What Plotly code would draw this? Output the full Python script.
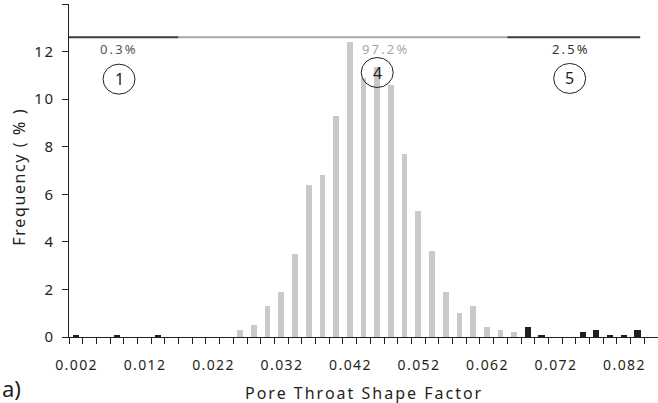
import plotly.graph_objects as go

# ---- data ----
bin_width = 0.002
first_bin = 0.002
# frequencies (%) per bin, bins at 0.002, 0.004, ..., 0.086
frequency = [0.1, 0, 0, 0.1, 0, 0, 0.1, 0, 0, 0, 0, 0,
             0.3, 0.5, 1.3, 1.9, 3.5, 6.4, 6.8, 9.3, 12.4, 10.9, 11.35, 10.6,
             7.7, 5.3, 3.6, 1.9, 1.0, 1.3, 0.4, 0.3, 0.2,
             0.4, 0.1, 0, 0, 0.2, 0.3, 0.1, 0.1, 0.3, 0]
# region of each bin (1 and 5 dark, 4 gray)
region = [1]*12 + [4]*21 + [5]*10
bin_centers = [round(first_bin + i * bin_width, 4) for i in range(len(frequency))]

tick_values = [0.002, 0.012, 0.022, 0.032, 0.042, 0.052, 0.062, 0.072, 0.082]
tick_labels = ["0.002", "0.012", "0.022", "0.032", "0.042", "0.052", "0.062", "0.072", "0.082"]
y_tick_values = [0, 2, 4, 6, 8, 10, 12, 14]

region_names = ["1", "4", "5"]
region_share = ["0.3%", "97.2%", "2.5%"]
region_edges = [0.001, 0.017, 0.065, 0.0844]
region_line_y = 12.6
label_x = [0.0082, 0.047, 0.0741]
label_y = 12.1
circle_x = [0.0083, 0.046, 0.0741]
circle_y = [10.84, 11.12, 10.87]

x_title = "Pore Throat Shape Factor"
y_title = "Frequency ( % )"
panel_label = "a)"

DARK = "#231f20"
GRAY = "#c8c9cb"
FONT = "Noto Sans"
THIN = "\u2009"
HAIR = "\u200a"


def track(s, sp):
    return sp.join(list(s))


fig = go.Figure()

gx = [c for c, r in zip(bin_centers, region) if r == 4]
gy = [f for f, r in zip(frequency, region) if r == 4]
dx = [c for c, r in zip(bin_centers, region) if r != 4]
dy = [f for f, r in zip(frequency, region) if r != 4]

fig.add_trace(go.Bar(x=gx, y=gy, width=bin_width * 0.42, marker=dict(color=GRAY, line_width=0),
                     showlegend=False))
fig.add_trace(go.Bar(x=dx, y=dy, width=bin_width * 0.45, marker=dict(color=DARK, line_width=0),
                     showlegend=False))

line_colors = ["#3d3d3d", "#a8a8a8", "#3d3d3d"]
for i in range(3):
    fig.add_trace(go.Scatter(x=[region_edges[i], region_edges[i + 1]], y=[region_line_y, region_line_y],
                             mode="lines", line=dict(color=line_colors[i], width=2),
                             showlegend=False, hoverinfo="skip"))

text_colors = ["#555555", "#a8a8a8", "#333333"]
for i in range(3):
    fig.add_annotation(x=label_x[i], y=label_y, text=track(region_share[i], THIN), showarrow=False,
                       font=dict(family=FONT, size=13, color=text_colors[i]))
    fig.add_shape(type="circle", xref="x", yref="y", xsizemode="pixel", ysizemode="pixel",
                  xanchor=circle_x[i], yanchor=circle_y[i], x0=-16, x1=16, y0=-15, y1=15,
                  line=dict(color=DARK, width=1), layer="above")
    fig.add_annotation(x=circle_x[i], y=circle_y[i], text=region_names[i], showarrow=False,
                       font=dict(family=FONT, size=16, color=DARK))

# plot area: x 69..658 px, y 4..337 px
fig.add_annotation(xref="paper", yref="paper", x=-0.117, y=-0.152, xanchor="left", yanchor="middle",
                   text=panel_label, showarrow=False, font=dict(family=FONT, size=22, color=DARK))
fig.add_annotation(xref="paper", yref="paper", x=0.5, y=-0.168, xanchor="center", yanchor="middle",
                   text='<span style="letter-spacing:2px">' + x_title + '</span>', showarrow=False,
                   font=dict(family=FONT, size=16, color=DARK))
fig.add_annotation(xref="paper", yref="paper", x=-0.085, y=0.478, xanchor="center", yanchor="middle",
                   textangle=-90, text=track(y_title, HAIR), showarrow=False,
                   font=dict(family=FONT, size=16, color=DARK))

fig.update_layout(
    width=658, height=403,
    margin=dict(l=69, r=0, t=4, b=66),
    paper_bgcolor="white", plot_bgcolor="white",
    bargap=0,
    font=dict(family=FONT, color=DARK),
)
fig.update_xaxes(
    range=[0.001, 0.087], tickvals=tick_values, ticktext=[track(t, HAIR) for t in tick_labels],
    ticks="", showgrid=False, zeroline=False,
    showline=True, linecolor=DARK, linewidth=1,
    minor=dict(tick0=0.001, dtick=bin_width, ticks="outside", ticklen=6, tickcolor=DARK, showgrid=False),
    tickfont=dict(family=FONT, size=14, color=DARK),
    ticklabelstandoff=15,
)
fig.update_yaxes(
    range=[0, 14], tickvals=y_tick_values, ticktext=[track(str(v), HAIR) for v in y_tick_values],
    ticks="outside", ticklen=6, tickcolor=DARK,
    showgrid=False, zeroline=False, showline=True, linecolor=DARK, linewidth=1,
    tickfont=dict(family=FONT, size=15, color=DARK),
    ticklabelstandoff=6,
)

fig.write_html("out.html")
